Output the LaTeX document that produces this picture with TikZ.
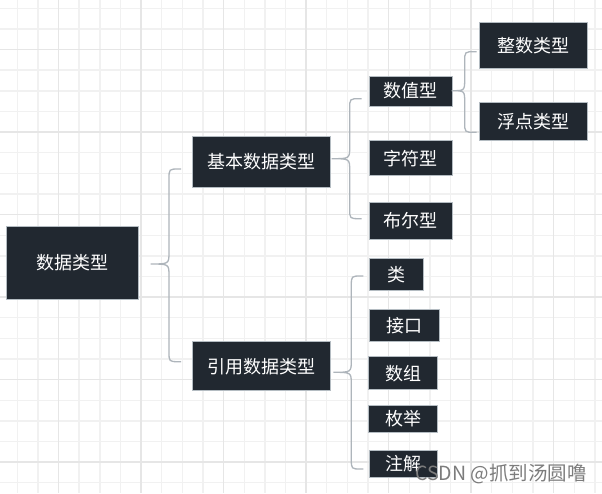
\documentclass[tikz,border=0pt]{standalone}
\usepackage{fontspec}
\newfontfamily\cjk{Noto Sans CJK SC}
\usetikzlibrary{calc}
\definecolor{nodefill}{HTML}{212830}
\definecolor{nodeborder}{HTML}{B4BCC2}
\definecolor{conncol}{HTML}{AEB5BB}
\definecolor{gridminor}{HTML}{F1F1F1}
\definecolor{gridmajor}{HTML}{E6E6E6}
\definecolor{wmark}{HTML}{7C7C7C}
\tikzset{
  box/.style={draw=nodeborder, line width=1pt, fill=nodefill, text=white,
    font=\cjk\fontsize{18}{20}\selectfont, inner sep=0pt, outer sep=0pt},
  conn/.style={draw=conncol, line width=1.3pt},
}
\newcommand\bracedraw[3]{% tip, top end, bottom end
  \draw[conn] let \p1=(#1), \p2=(#2), \p3=(#3) in
    (\p2) -- (\x2-2pt,\y2) .. controls (\x2-12pt,\y2) .. (\x2-12pt,\y2-10pt)
    -- (\x2-12pt,\y1+12pt) .. controls (\x2-12pt,\y1) .. (\p1)
    .. controls (\x2-12pt,\y1) .. (\x2-12pt,\y1-12pt)
    -- (\x3-12pt,\y3+10pt) .. controls (\x3-12pt,\y3) .. (\x3-2pt,\y3) -- (\p3);
}
\begin{document}
\begin{tikzpicture}[x=1pt,y=-1pt]
\useasboundingbox (0,0) rectangle (602,493);
\fill[white] (0,0) rectangle (602,493);
% grid
\foreach \i in {0,...,28} {
  \draw[gridminor, line width=1.4pt] ({17.3+20.63*\i},0) -- ({17.3+20.63*\i},493);
}
\foreach \i in {0,...,23} {
  \draw[gridminor, line width=1.4pt] (0,{8.3+20.63*\i}) -- (602,{8.3+20.63*\i});
}
\foreach \i in {0,...,6} {
  \draw[gridmajor, line width=1.4pt] ({58.3+82.52*\i},0) -- ({58.3+82.52*\i},493);
}
\foreach \i in {0,...,5} {
  \draw[gridmajor, line width=1.4pt] (0,{49.3+82.52*\i}) -- (602,{49.3+82.52*\i});
}
% nodes
\node[box, minimum width=131.5pt, minimum height=73pt] (root) at (72.25,263) {数据类型};
\node[box, minimum width=137.7pt, minimum height=50.6pt] (jb) at (261.2,162) {基本数据类型};
\node[box, minimum width=137.7pt, minimum height=49pt] (yy) at (261.2,366.2) {引用数据类型};
\node[box, minimum width=82.7pt, minimum height=30pt] (szx) at (410.7,91) {数值型};
\node[box, minimum width=82.7pt, minimum height=35.3pt] (zfx) at (410.7,158.3) {字符型};
\node[box, minimum width=82.7pt, minimum height=37pt] (bex) at (410.7,220.8) {布尔型};
\node[box, minimum width=108pt, minimum height=46pt] (zs) at (533.3,45.7) {整数类型};
\node[box, minimum width=108pt, minimum height=38pt] (fd) at (533.3,121.7) {浮点类型};
\node[box, minimum width=53.7pt, minimum height=32.4pt] (lei) at (396.2,274.5) {类};
\node[box, minimum width=70.4pt, minimum height=31.6pt] (jk) at (404.5,325.5) {接口};
\node[box, minimum width=69.3pt, minimum height=33pt] (sz) at (403.3,373.2) {数组};
\node[box, minimum width=69.3pt, minimum height=27.4pt] (mj) at (403.3,419) {枚举};
\node[box, minimum width=68pt, minimum height=27.4pt] (zj) at (403,464) {注解};
% connector anchor points
\coordinate (t0) at (150.5,264);
\coordinate (a0) at (181,169);
\coordinate (b0) at (181,361.7);
\coordinate (t1) at (331.7,158.7);
\coordinate (a1) at (361.7,98.7);
\coordinate (b1) at (361.7,218.7);
\coordinate (t2) at (451.7,90.7);
\coordinate (a2) at (476.7,51.7);
\coordinate (b2) at (476.7,132.3);
\coordinate (t3) at (333.3,372.3);
\coordinate (a3) at (363.3,276);
\coordinate (b3) at (363.3,469);
\bracedraw{t0}{a0}{b0}
\bracedraw{t1}{a1}{b1}
\bracedraw{t2}{a2}{b2}
\bracedraw{t3}{a3}{b3}
% watermark
\node[anchor=west, text=wmark, font=\cjk\fontsize{19.5}{21}\selectfont, inner sep=0pt] (wm) at (415,474) {CSDN @抓到汤圆噜};
\end{tikzpicture}
\end{document}
